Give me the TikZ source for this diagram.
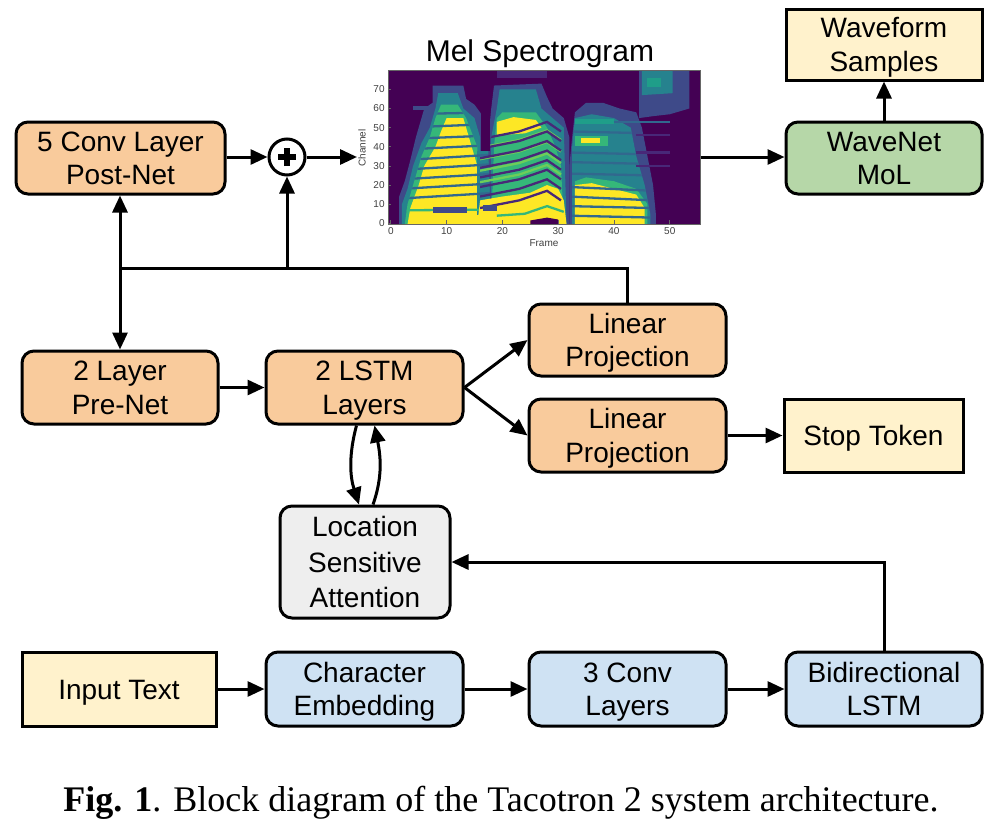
\documentclass[tikz,border=0pt]{standalone}
\usepackage{fontspec}
\setmainfont{Liberation Serif}
\newfontfamily\bxf{Liberation Sans}
\usetikzlibrary{arrows.meta,calc}
\definecolor{orng}{HTML}{F9CB9C}
\definecolor{lblue}{HTML}{CFE2F3}
\definecolor{lgreen}{HTML}{B6D7A8}
\definecolor{lyel}{HTML}{FFF2CC}
\definecolor{lgray}{HTML}{EEEEEE}
\definecolor{vp}{HTML}{440154}
\definecolor{vA}{HTML}{482878}
\definecolor{vB}{HTML}{3E4A89}
\definecolor{vC}{HTML}{31688E}
\definecolor{vD}{HTML}{26828E}
\definecolor{vE}{HTML}{1F9E89}
\definecolor{vF}{HTML}{35B779}
\definecolor{vG}{HTML}{6DCD59}
\definecolor{vH}{HTML}{B4DE2C}
\definecolor{vY}{HTML}{FDE725}
\newcommand\fl[1]{\rule{0pt}{20pt}\smash{#1}}
\newcommand\nl[1]{\smash{#1}}
\begin{document}
\begin{tikzpicture}[x=1pt,y=-1pt,
  box/.style={draw=black, line width=3pt, rounded corners=12pt, align=center,
    font=\bxf\fontsize{28}{33.3}\selectfont, inner sep=0pt},
  sqbox/.style={box, rounded corners=0pt},
  conn/.style={line width=3pt},
  arr/.style={conn, -{Triangle[length=17pt,width=15pt]}},
  darr/.style={conn, {Triangle[length=17pt,width=15pt]}-{Triangle[length=17pt,width=15pt]}},
  ticklab/.style={font=\bxf\fontsize{10}{12}\selectfont, text=black!75, inner sep=1pt},
  stripe/.style={line width=2.3pt}]
\useasboundingbox (0,0) rectangle (1005,828);

% ---------------- spectrogram ----------------
\begin{scope}
\clip (388,70.5) rectangle (700.5,224.3);
\fill[vp] (388,70.5) rectangle (700.5,224.3);
\begin{scope}[shift={(390.79pt,-223.34pt)}, x=5.58pt, y=1.914pt]
 % top faint bits
 \fill[vA] (19,76) rectangle (28,80);
 \fill[vB] (4,59) rectangle (7.5,61.5);
 % segment 1
 \fill[vB] (1.5,-0.5) -- (1.5,14) -- (2.5,22) -- (3.5,33) -- (4.5,45) -- (5,50) -- (6,60) -- (7.5,63) -- (7.5,72) -- (13,72) -- (13.5,65) -- (15,62) -- (16.5,56) -- (16.5,-0.5) -- cycle;
 \fill[vD] (2,-0.5) -- (2,10) -- (3,18) -- (4,30) -- (5.5,42) -- (7,50) -- (8,60) -- (8.5,68) -- (12,68) -- (13,60) -- (15,55) -- (16,45) -- (16,-0.5) -- cycle;
 \fill[vF] (2.5,-0.5) -- (3,10) -- (4,20) -- (5.5,35) -- (7,45) -- (8,55) -- (9,62) -- (12,62) -- (13.5,55) -- (15.5,40) -- (16,-0.5) -- cycle;
 \fill[vY] (3,-0.5) -- (3.5,8) -- (5,20) -- (6,30) -- (8,40) -- (9,48) -- (10,55) -- (13,55) -- (14,45) -- (15.5,30) -- (16,15) -- (16,-0.5) -- cycle;
 \fill[vD] (15.5,-0.5) rectangle (18.5,38);
 \begin{scope}
  \clip (2.5,-0.5) -- (3,10) -- (4,20) -- (5.5,35) -- (7,45) -- (8,55) -- (9,62) -- (12,62) -- (13.5,55) -- (15.5,40) -- (16,38) -- (18.5,38) -- (18.5,-0.5) -- cycle;
  \foreach \a/\b in {13/16,18/21,23/26,28/31,33/36,38.5/41,44/46,50/52,57/58}
   \draw[stripe, vC] (2,\a) -- (19,\b);
  \draw[stripe, vF] (2,6.8) -- (19,7.2);
  \fill[vY] (15.5,-0.5) rectangle (18.5,4.5);
 \end{scope}
 \fill[vB] (7.5,5.3) rectangle (13.7,8.6);
 % segment 2
 \fill[vB] (17.5,36) -- (17.5,45) -- (18,60) -- (18.5,72) -- (27,73) -- (28,66) -- (29,60) -- (31,55) -- (32,45) -- (32,-0.5) -- (18,-0.5) -- cycle;
 \fill[vD] (18,-0.5) -- (18,45) -- (19,60) -- (19.5,70) -- (26,70) -- (27,60) -- (29,55) -- (31,50) -- (31.5,-0.5) -- cycle;
 \fill[vF] (18,-0.5) -- (18.5,40) -- (19,55) -- (20,58) -- (26,58) -- (28,50) -- (29.5,40) -- (30.5,30) -- (31,-0.5) -- cycle;
 \fill[vY] (15.5,-0.5) -- (16,12) -- (20,14) -- (25,16) -- (28,20) -- (30,18) -- (31,12) -- (31.5,-0.5) -- cycle;
 \fill[vY] (19,46) -- (19,53) -- (22,55.5) -- (26,54) -- (27,50) -- (24,47) -- cycle;
 \begin{scope}
  \clip (16,-0.5) -- (16,38) -- (18,45) -- (19,60) -- (19.5,70) -- (26,70) -- (27,60) -- (29,55) -- (31,50) -- (31.5,-0.5) -- cycle;
  \foreach \a in {20,26,32,38}
   \draw[stripe, vG] (16,\a+1.5) -- (23,\a+5.5) -- (28,\a+10.5) -- (30.5,\a+5.5);
  \foreach \a in {9,15,20,25,30,35,40,45}
   \draw[stripe, vA] (16,\a-1) -- (23,\a+3) -- (28,\a+8) -- (30.5,\a+3);
  \draw[stripe, vF] (19,4) -- (24,5) -- (28,9) -- (31,6);
 \end{scope}
 \fill[vB] (16.5,6.5) rectangle (19,9.5);
 \fill[vp] (25,-0.5) -- (25,1.5) -- (28,3) -- (30,2) -- (30,-0.5) -- cycle;
 \fill[vp] (16.2,38) rectangle (17.8,72);
 % segment 3
 \fill[vB] (32,-0.5) -- (32,30) -- (32.5,45) -- (33,58) -- (35,63) -- (38,63) -- (41,60) -- (44,58) -- (45,50) -- (46,35) -- (47,20) -- (47.5,5) -- (47.5,-0.5) -- cycle;
 \fill[vD] (32.5,-0.5) -- (32.5,40) -- (33,55) -- (36,57) -- (40,55) -- (43,50) -- (44,35) -- (45.5,20) -- (46.5,5) -- (46.5,-0.5) -- cycle;
 \fill[vF] (33,-0.5) -- (33,22) -- (35,24) -- (40,22) -- (44,18) -- (46,10) -- (46,-0.5) -- cycle;
 \fill[vY] (33,-0.5) -- (33,20) -- (36,21) -- (40,18) -- (44,15) -- (45.5,8) -- (45.5,-0.5) -- cycle;
 \fill[vF] (33,40.5) rectangle (39,45.5);
 \fill[vY] (34,42) rectangle (37.5,44.5);
 \fill[vE] (33,52) rectangle (40,54.5);
 \draw[stripe, vC] (40,53) -- (50,53);
 \begin{scope}
  \clip (32.5,-0.5) -- (32.5,40) -- (33,55) -- (36,57) -- (40,55) -- (43,50) -- (44,35) -- (45.5,20) -- (46.5,5) -- (46.5,-0.5) -- cycle;
  \foreach \a/\b in {4/3,9/8,14/12,19/17,26/25,32/31,37/36,48/47}
   \draw[stripe, vC] (32,\a) -- (47,\b);
 \end{scope}
 \foreach \a in {30,37,46}
  \draw[stripe, vA] (44,\a) -- (50,\a);
 % top right patch
 \fill[vB] (44.5,55) -- (44.5,79.8) -- (53.5,79.8) -- (53.5,60) -- (50,57) -- (47,56) -- cycle;
 \fill[vD] (45,67) -- (45,79.8) -- (50.5,79.8) -- (50.5,68) -- cycle;
 \fill[vE] (46,71) rectangle (48.5,76);
\end{scope}
\end{scope}
\draw[black!60, line width=0.8pt] (388,70.5) rectangle (700.5,224.3);
\begin{scope}[shift={(390.79pt,-223.34pt)}, x=5.58pt, y=1.914pt]
 \foreach \f in {0,10,20,30,40,50} {
  \draw[black!60, line width=0.6pt] (\f,-0.5) -- (\f,1.5);
  \node[ticklab, anchor=north] (xt\f) at (\f,-1.5) {\f};
 }
 \foreach \c in {0,10,20,30,40,50,60,70} {
  \draw[black!60, line width=0.6pt] (-0.5,\c) -- (0,\c);
  \node[ticklab, anchor=east] (yt\c) at (-0.9,\c) {\c};
 }
\end{scope}
\node[ticklab, anchor=north] (xlab) at (544,238) {Frame};
\node[ticklab, rotate=90] (ylab) at (362,148) {Channel};
\node[font=\bxf\fontsize{30}{34}\selectfont, inner sep=0pt, anchor=base] (spectitle) at (540,61) {Mel Spectrogram};
\coordinate (specin) at (357,157);
\coordinate (specout) at (700.5,157);

% ---------------- boxes ----------------
\node[box, fill=orng, minimum width=209pt, minimum height=72pt] (post) at (120.5,158) {\fl{5 Conv Layer}\\\nl{Post-Net}};
\node[circle, draw=black, line width=3pt, fill=white, minimum size=36pt, inner sep=0pt] (plus) at (287,157) {};
\draw[line width=6pt] ([xshift=-9pt]plus.center) -- ([xshift=9pt]plus.center);
\draw[line width=6pt] ([yshift=-9pt]plus.center) -- ([yshift=9pt]plus.center);
\node[box, fill=orng, minimum width=196pt, minimum height=73pt] (pre) at (120,387.5) {\fl{2 Layer}\\\nl{Pre-Net}};
\node[box, fill=orng, minimum width=197pt, minimum height=73pt] (lstm) at (364.5,387.5) {\fl{2 LSTM}\\\nl{Layers}};
\node[box, fill=orng, minimum width=197pt, minimum height=72pt] (lin1) at (627.5,340) {\fl{Linear}\\\nl{Projection}};
\node[box, fill=orng, minimum width=197pt, minimum height=73pt] (lin2) at (627.5,435.5) {\fl{Linear}\\\nl{Projection}};
\node[sqbox, fill=lyel, minimum width=179pt, minimum height=73pt] (stop) at (873.5,435.5) {\fl{Stop Token}};
\node[box, fill=lgray, minimum width=170pt, minimum height=112pt, font=\bxf\fontsize{28}{35.5}\selectfont] (att) at (365,562) {\fl{Location}\\\nl{Sensitive}\\\nl{Attention}};
\node[sqbox, fill=lyel, minimum width=194pt, minimum height=74pt] (input) at (119,689) {\fl{Input Text}};
\node[box, fill=lblue, minimum width=197pt, minimum height=74pt] (emb) at (364.5,689) {\fl{Character}\\\nl{Embedding}};
\node[box, fill=lblue, minimum width=197pt, minimum height=74pt] (conv) at (627.5,689) {\fl{3 Conv}\\\nl{Layers}};
\node[box, fill=lblue, minimum width=196pt, minimum height=74pt] (bilstm) at (884,689) {\fl{Bidirectional}\\\nl{LSTM}};
\node[box, fill=lgreen, minimum width=196pt, minimum height=72pt] (wavenet) at (884,158) {\fl{WaveNet}\\\nl{MoL}};
\node[sqbox, fill=lyel, minimum width=196pt, minimum height=71pt] (wave) at (884,44.5) {\fl{Waveform}\\\nl{Samples}};

% ---------------- connectors ----------------
\coordinate (fb) at (120,268);
\draw[arr] (post.east |- plus.west) -- (plus.west);
\draw[arr] (plus.east) -- (specin);
\draw[arr] (specout) -- (specout -| wavenet.west);
\draw[arr] (wavenet.north) -- (wave.south);
\draw[conn] (lin1.north) |- (fb);
\draw[arr] (plus.south |- fb) -- (plus.south);
\draw[darr] (pre.north |- post.south) -- (pre.north);
\draw[arr] (pre.east) -- (lstm.west);
\draw[arr] (lstm.east) -- (lin1.west);
\draw[arr] (lstm.east) -- (lin2.west);
\draw[arr] (lin2.east) -- (stop.west);
\draw[arr] ([xshift=-8pt]lstm.south) .. controls +(-8,30) and +(-9,-28) .. ([xshift=-6pt]att.north);
\draw[arr] ([xshift=8pt]att.north) .. controls +(10,-28) and +(6,30) .. ([xshift=10pt]lstm.south);
\draw[arr] (bilstm.north) |- (att.east);
\draw[arr] (input.east) -- (emb.west);
\draw[arr] (emb.east) -- (conv.west);
\draw[arr] (conv.east) -- (bilstm.west);

% ---------------- caption ----------------
\node[font=\fontsize{36}{40}\selectfont, inner sep=0pt, anchor=base] (caption) at (501,811.5) {\textbf{Fig. 1}. Block diagram of the Tacotron 2 system architecture.};
\end{tikzpicture}
\end{document}
